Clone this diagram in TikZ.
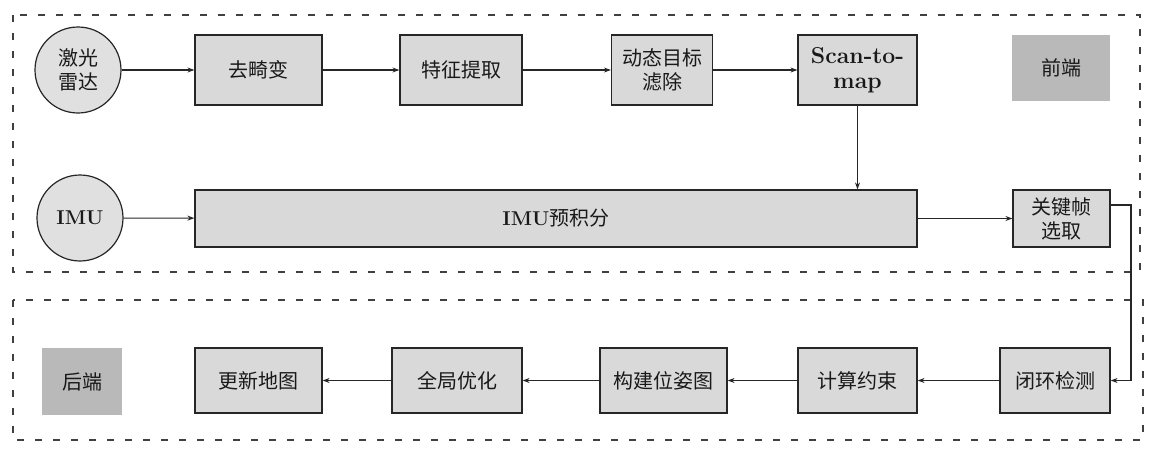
\documentclass[tikz,border=0pt]{standalone}
\usepackage{fontspec}
\newfontfamily\cjk{Noto Sans CJK SC}
\usetikzlibrary{arrows.meta,patterns}
\newcommand{\latinbig}{\rmfamily\bfseries\fontsize{23}{25}\selectfont}
\begin{document}
\begin{tikzpicture}[x=1pt,y=-1pt,
  every node/.style={font=\cjk\fontsize{20}{24}\selectfont, text=black!90, inner sep=0pt, align=center},
  boxnode/.style={draw=black!85, line width=1.2pt, fill=gray!30, minimum width=#1, minimum height=70pt},
  boxnode/.default=127pt,
  circnode/.style={draw=black!85, line width=1.2pt, fill=gray!24, circle, minimum size=86pt},
  tagnode/.style={fill=gray!55, minimum width=98pt, minimum height=66pt},
  frame/.style={draw=black!75, line width=1.3pt, dash pattern=on 7pt off 11pt},
  conn/.style={draw=black!85, line width=1.1pt, -{Stealth[length=7pt,width=5pt]}}
]
\useasboundingbox (0,0) rectangle (1158,450);
% frames
\draw[frame] (13,15) rectangle (1140,272);
\draw[frame] (13,300) rectangle (1143,440);
% row 1
\node[circnode] (lidar) at (78,70) {激光\\雷达};
\node[boxnode] (undist) at (258.5,70) {去畸变};
\node[boxnode=122pt] (feat) at (461,70) {特征提取};
\node[boxnode=101pt] (dyn) at (662,70) {动态目标\\滤除};
\node[boxnode=119pt, font=\latinbig] (s2m) at (857.5,70) {Scan-to-\\map};
\node[tagnode] (front) at (1061,68) {前端};
% row 2
\node[circnode] (imu) at (80,218) {{\rmfamily\bfseries\fontsize{20}{22}\selectfont IMU}};
\node[boxnode=722pt, minimum height=57pt] (preint) at (556,218.5) {{\rmfamily\bfseries\fontsize{20}{22}\selectfont IMU}预积分};
\node[boxnode=97pt, minimum height=57pt] (kf) at (1061.5,218.5) {关键帧\\选取};
% row 3
\node[tagnode, minimum width=80pt, minimum height=67pt] (back) at (82,381.5) {后端};
\node[boxnode=127pt, minimum height=65pt] (upd) at (258.5,380.5) {更新地图};
\node[boxnode=130pt, minimum height=65pt] (glob) at (457,380.5) {全局优化};
\node[boxnode=127pt, minimum height=65pt] (pose) at (663.5,380.5) {构建位姿图};
\node[boxnode=119pt, minimum height=65pt] (cons) at (857.5,380.5) {计算约束};
\node[boxnode=110pt, minimum height=65pt] (loop) at (1055,380.5) {闭环检测};
% connectors
\draw[conn] (lidar) -- (undist);
\draw[conn] (undist) -- (feat);
\draw[conn] (feat) -- (dyn);
\draw[conn] (dyn) -- (s2m);
\draw[conn] (s2m) -- (preint.north -| s2m);
\draw[conn] (imu) -- (preint);
\draw[conn] (preint) -- (kf);
\coordinate (k1) at (1131,205);
\coordinate (k2) at (1131,380.5);
\draw[conn] (kf.east |- k1) -- (k1) -- (k2) -- (loop);
\draw[conn] (loop) -- (cons);
\draw[conn] (cons) -- (pose);
\draw[conn] (pose) -- (glob);
\draw[conn] (glob) -- (upd);
\end{tikzpicture}
\end{document}
